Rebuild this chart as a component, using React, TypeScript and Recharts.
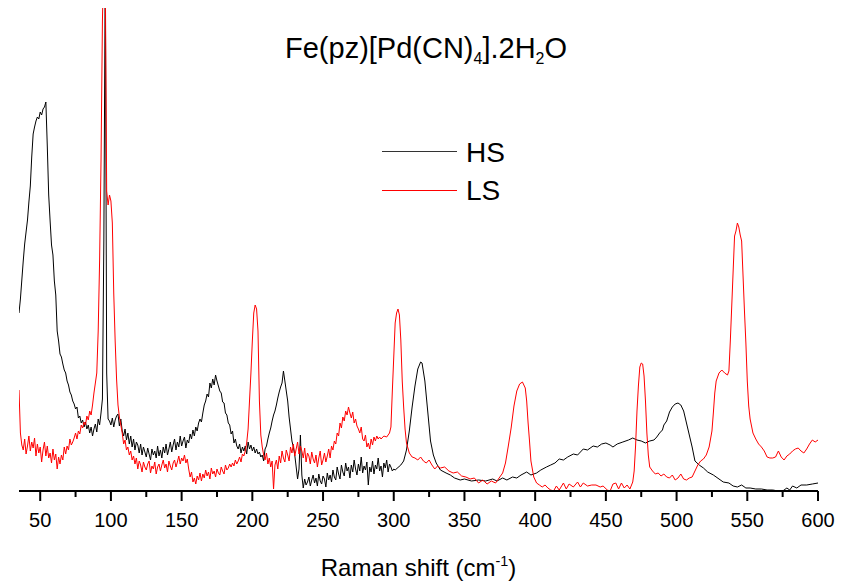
import React from 'react';
import { LineChart, Line, XAxis, YAxis } from 'recharts';

// Raman spectra of Fe(pz)[Pd(CN)4].2H2O, high spin (HS) and low spin (LS).
// Intensities are arbitrary units.

// noisy low-shift part, one value per cm-1
const HS_NOISY_START = 35;
const hsNoisy = [
  178, 192, 211, 230, 247, 259, 271, 289, 305, 334,
  357, 364, 370, 374, 372, 379, 376, 382, 384, 389,
  345, 296, 270, 246, 236, 210, 196, 160, 150, 137,
  134, 127, 121, 118, 110, 106, 99, 96, 90, 87,
  82, 84, 73, 75, 68, 71, 64, 69, 62, 66,
  58, 64, 55, 62, 67, 59, 72, 66, 78, 92,
  250, 530, 118, 72, 70, 66, 73, 64, 71, 75,
  77, 65, 72, 60, 55, 62, 51, 58, 47, 55,
  44, 52, 41, 49, 46, 38, 47, 36, 44, 39,
  34, 43, 37, 31, 42, 36, 40, 33, 45, 35,
  41, 33, 44, 38, 47, 36, 42, 49, 39, 46,
  52, 41, 49, 44, 55, 45, 50, 54, 43, 51,
  48, 57, 52, 61, 55, 64, 60, 68, 72, 69,
  78, 86, 90, 97, 94, 108, 103, 112, 106, 116,
  110, 105, 100, 98, 89, 88, 78, 76, 68, 66,
  57, 60, 48, 52, 45, 42, 47, 38, 44, 40,
  45, 37, 49, 42, 46, 40, 44, 38, 42, 37,
  39, 34, 36, 30, 42, 45, 52, 58, 63, 70,
  76, 80, 86, 93, 99, 104, 108, 120, 110, 100,
  90, 74, 62, 50, 44, 36, 24, 12, 22, 56,
  16, 3, 12, 6, 9, 14, 5, 11, 16, 8,
  13, 5, 17, 10, 7, 15, 12, 4, 18, 11,
  16, 9, 21, 14, 11, 24, 17, 12, 26, 19,
  15, 28, 20, 24, 13, 26, 19, 31, 22, 16,
  27, 20, 34, 18, 25, 21, 29, 6, 24, 19,
  30, 17, 26, 22, 33, 20, 25, 14, 28, 23,
  31, 19, 27, 24, 20, 22,
];

// smoother high-shift part
const hsShift = [
  301, 305, 307, 309, 311, 313, 315, 317, 319, 320, 322, 324, 326, 328, 330, 333, 337, 340, 343, 347,
  350, 355, 360, 365, 370, 373, 377, 380, 384, 387, 390, 394, 397, 401, 404, 408, 411, 414, 417, 420,
  423, 427, 430, 434, 437, 441, 444, 447, 450, 453, 455, 458, 462, 466, 469, 472, 475, 478, 481, 484,
  486, 488, 490, 491, 493, 495, 497, 499, 501, 503, 505, 507, 509, 511, 513, 516, 519, 522, 526, 530,
  533, 537, 540, 543, 546, 549, 552, 556, 560, 564, 568, 572, 575, 578, 580, 582, 585, 588, 592, 596,
  600,
];
const hsValue = [
  21, 26, 30, 41, 60, 84, 105, 122, 129, 128, 110, 80, 50, 36, 28, 21, 18, 16, 13, 11,
  12, 10, 11, 10, 12, 10, 13, 11, 14, 13, 16, 19, 16, 18, 21, 24, 26, 28, 32, 31,
  34, 37, 36, 42, 41, 45, 44, 47, 48, 46, 44, 47, 49, 51, 53, 51, 50, 48, 50, 51,
  54, 58, 61, 66, 70, 79, 84, 87, 88, 86, 80, 68, 56, 44, 30, 26, 23, 19, 16, 12,
  9, 8, 5, 4, 6, 3, 3, 2, 2, 1, 1, 0, 0, 3, 1, 5, 3, 6, 6, 7,
  8,
];

const LS_NOISY_START = 35;
const lsNoisy = [
  101, 58, 46, 41, 52, 37, 45, 55, 40, 49,
  43, 53, 35, 47, 38, 44, 29, 41, 49, 35,
  45, 33, 38, 28, 42, 31, 37, 22, 34, 27,
  36, 31, 44, 37, 45, 41, 52, 46, 49, 53,
  58, 52, 60, 57, 66, 63, 69, 66, 75, 71,
  80, 76, 86, 98, 108, 118, 160, 230, 330, 470,
  540, 520, 300, 286, 296, 290, 268, 198, 150, 112,
  86, 74, 66, 58, 47, 51, 41, 44, 36, 40,
  31, 35, 27, 33, 22, 30, 26, 19, 29, 24,
  21, 27, 30, 18, 25, 22, 29, 17, 24, 27,
  20, 26, 31, 23, 27, 19, 30, 25, 21, 28,
  31, 24, 29, 35, 27, 33, 30, 36, 28, 32,
  22, 14, 19, 9, 13, 7, 15, 11, 18, 10,
  17, 13, 21, 15, 19, 12, 23, 17, 20, 14,
  22, 18, 16, 24, 20, 17, 26, 21, 23, 27,
  24, 28, 25, 31, 27, 30, 34, 29, 37, 35,
  40, 48, 62, 90, 118, 150, 178, 186, 182, 160,
  90, 56, 44, 36, 31, 38, 27, 33, 24, 30,
  2, 26, 31, 22, 35, 28, 40, 33, 29, 41,
  36, 30, 44, 38, 47, 35, 42, 49, 37, 45,
  40, 33, 43, 29, 38, 35, 27, 39, 32, 28,
  36, 24, 33, 40, 26, 31, 38, 29, 35, 42,
  33, 45, 41, 50, 47, 58, 55, 68, 63, 74,
  70, 80, 76, 84, 78, 73, 79, 68, 72, 65,
  62, 58, 64, 52, 50, 56, 44, 48, 42, 52,
  46, 54, 50, 55, 52, 54,
];

const lsShift = [
  291, 293, 295, 297, 298, 299, 300, 301, 302, 303, 304, 305, 306, 307, 308, 309, 311, 313, 315, 317,
  319, 321, 323, 325, 327, 329, 331, 333, 336, 339, 342, 345, 348, 351, 354, 357, 360, 363, 366, 369,
  372, 375, 377, 379, 381, 383, 385, 387, 389, 391, 393, 394, 395, 396, 397, 399, 401, 403, 405, 407,
  409, 411, 413, 415, 417, 420, 422, 424, 427, 430, 432, 434, 437, 440, 443, 446, 448, 451, 453, 455,
  457, 459, 461, 463, 465, 467, 469, 470, 471, 472, 473, 474, 475, 476, 477, 478, 479, 480, 481, 483,
  485, 487, 489, 491, 493, 495, 497, 499, 501, 503, 505, 507, 509, 511, 513, 515, 517, 519, 521, 523,
  525, 526, 527, 528, 530, 532, 534, 536, 537, 538, 539, 540, 541, 542, 543, 544, 545, 546, 547, 548,
  549, 550, 551, 552, 554, 556, 558, 560, 562, 564, 566, 568, 570, 572, 574, 576, 578, 580, 582, 584,
  586, 588, 590, 592, 594, 596, 598, 600,
];
const lsValue = [
  52, 55, 54, 58, 64, 100, 134, 168, 178, 182, 176, 151, 110, 84, 62, 48, 38, 34, 33, 31,
  34, 30, 28, 31, 26, 22, 25, 23, 24, 20, 18, 19, 15, 14, 12, 13, 8, 11, 7, 10,
  8, 14, 18, 28, 45, 63, 85, 100, 107, 109, 103, 90, 68, 50, 30, 14, 8, 6, 4, 6,
  3, 1, 0, 5, 1, 8, 2, 7, 4, 9, 4, 8, 5, 6, 6, 4, 5, 1, 0, 7,
  8, 2, 8, 3, 6, 2, 9, 20, 45, 80, 105, 124, 128, 127, 115, 90, 58, 36, 24, 20,
  17, 18, 15, 17, 14, 13, 16, 11, 13, 17, 12, 11, 13, 14, 20, 26, 30, 32, 36, 44,
  60, 78, 98, 110, 118, 121, 118, 116, 120, 150, 185, 220, 255, 260, 268, 264, 256, 250, 215, 180,
  148, 110, 85, 72, 58, 52, 47, 44, 40, 34, 33, 33, 34, 40, 34, 31, 35, 37, 40, 42,
  43, 40, 38, 42, 47, 51, 49, 51,
];

const xTicks = [50, 75, 100, 125, 150, 175, 200, 225, 250, 275, 300, 325, 350, 375, 400, 425, 450, 475, 500, 525, 550, 575, 600];

const hsData = [
  ...hsNoisy.map((v, i) => ({ shift: HS_NOISY_START + i, intensity: v })),
  ...hsShift.map((s, i) => ({ shift: s, intensity: hsValue[i] })),
];
const lsData = [
  ...lsNoisy.map((v, i) => ({ shift: LS_NOISY_START + i, intensity: v })),
  ...lsShift.map((s, i) => ({ shift: s, intensity: lsValue[i] })),
];

const FONT = '"Liberation Sans", Arial, sans-serif';

function AxisTick(props: any) {
  const { x, y, payload } = props;
  const major = payload.value % 50 === 0;
  return (
    <g>
      <line x1={x} x2={x} y1={y} y2={y + (major ? 10 : 6)} stroke="#000" strokeWidth={2} />
      {major && (
        <text x={x} y={y + 36} textAnchor="middle" fontSize={20} fontFamily={FONT} fill="#000">
          {payload.value}
        </text>
      )}
    </g>
  );
}

export default function App() {
  return (
    <div style={{ position: 'absolute', left: 0, top: 0, width: 850, height: 582, background: '#fff', fontFamily: FONT }}>
      <LineChart width={850} height={582} margin={{ top: 8, right: 32, left: 19, bottom: 0 }}>
        <XAxis
          dataKey="shift"
          type="number"
          domain={[35, 600]}
          ticks={xTicks}
          tick={<AxisTick />}
          tickSize={0}
          tickMargin={0}
          tickLine={false}
          interval={0}
          height={91}
          axisLine={{ stroke: '#000', strokeWidth: 2 }}
          allowDataOverflow
        />
        <YAxis hide type="number" domain={[0, 483]} allowDataOverflow />
        <Line data={hsData} dataKey="intensity" name="HS" stroke="#000" strokeWidth={1} dot={false} isAnimationActive={false} />
        <Line data={lsData} dataKey="intensity" name="LS" stroke="#ff0000" strokeWidth={1} dot={false} isAnimationActive={false} />
      </LineChart>

      <div style={{ position: 'absolute', left: 285, top: 34, fontSize: 29, lineHeight: '29px', whiteSpace: 'nowrap' }}>
        Fe(pz)[Pd(CN)<span style={{ fontSize: '0.55em', position: 'relative', top: '0.35em' }}>4</span>].2H
        <span style={{ fontSize: '0.55em', position: 'relative', top: '0.35em' }}>2</span>O
      </div>

      <div style={{ position: 'absolute', left: 382, top: 151, width: 75, borderTop: '1px solid #333' }} />
      <div style={{ position: 'absolute', left: 466, top: 139, fontSize: 28, lineHeight: '28px' }}>HS</div>
      <div style={{ position: 'absolute', left: 382, top: 190, width: 75, borderTop: '1px solid #ff0000' }} />
      <div style={{ position: 'absolute', left: 466, top: 177, fontSize: 28, lineHeight: '28px' }}>LS</div>

      <div style={{ position: 'absolute', left: 0, width: 837, top: 556, textAlign: 'center', fontSize: 24, lineHeight: '24px', whiteSpace: 'nowrap' }}>
        Raman shift (cm<span style={{ fontSize: '0.6em', position: 'relative', top: '-0.7em' }}>-1</span>)
      </div>
    </div>
  );
}
